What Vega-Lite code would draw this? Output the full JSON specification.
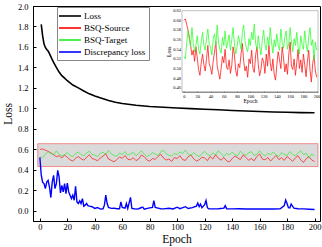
{
"$schema":"https://vega.github.io/schema/vega-lite/v6.json",
"width":287,"height":215,
"autosize":{"type":"none"},
"padding":{"left":33,"top":6,"right":2,"bottom":26},
"background":"white",
"config":{"view":{"stroke":"black","strokeWidth":1},"font":"Liberation Serif",
 "axis":{"grid":false,"labelOverlap":false,"labelFlush":false,"domainColor":"black","tickColor":"black","labelColor":"black","titleColor":"black","labelFont":"Liberation Serif","titleFont":"Liberation Serif","titleFontWeight":"normal"},
 "legend":{"title":null,"orient":"none","legendX":24,"legendY":1,"fillColor":"white","strokeColor":"#888888","padding":3,
   "symbolType":"M-2.2,0H2.2","symbolSize":100,"symbolStrokeWidth":1.6,"symbolOpacity":1,"symbolOffset":4,
   "labelFont":"Liberation Serif","labelFontSize":9,"labelColor":"black","labelOffset":8,"rowPadding":1}},
"datasets":{
"loss":[{"epoch":1,"value":1.82},{"epoch":2,"value":1.71},{"epoch":3,"value":1.63},{"epoch":4,"value":1.595},{"epoch":5,"value":1.575},{"epoch":6,"value":1.56},{"epoch":7,"value":1.535},{"epoch":8,"value":1.505},{"epoch":9,"value":1.475},{"epoch":10,"value":1.45},{"epoch":12,"value":1.4},{"epoch":14,"value":1.355},{"epoch":16,"value":1.32},{"epoch":18,"value":1.295},{"epoch":20,"value":1.27},{"epoch":24,"value":1.228},{"epoch":28,"value":1.2},{"epoch":32,"value":1.17},{"epoch":36,"value":1.142},{"epoch":40,"value":1.12},{"epoch":45,"value":1.098},{"epoch":50,"value":1.077},{"epoch":55,"value":1.06},{"epoch":60,"value":1.047},{"epoch":70,"value":1.03},{"epoch":80,"value":1.019},{"epoch":90,"value":1.011},{"epoch":100,"value":1.004},{"epoch":110,"value":0.998},{"epoch":120,"value":0.992},{"epoch":130,"value":0.986},{"epoch":140,"value":0.98},{"epoch":150,"value":0.975},{"epoch":160,"value":0.969},{"epoch":170,"value":0.965},{"epoch":180,"value":0.962},{"epoch":190,"value":0.959},{"epoch":200,"value":0.957}],
"disc":[{"epoch":0,"value":0.52},{"epoch":1,"value":0.35},{"epoch":2,"value":0.28},{"epoch":3,"value":0.265},{"epoch":4,"value":0.216},{"epoch":5,"value":0.28},{"epoch":6,"value":0.297},{"epoch":7,"value":0.232},{"epoch":8,"value":0.129},{"epoch":9,"value":0.28},{"epoch":10,"value":0.345},{"epoch":11,"value":0.216},{"epoch":12,"value":0.265},{"epoch":13,"value":0.394},{"epoch":14,"value":0.33},{"epoch":15,"value":0.174},{"epoch":16,"value":0.248},{"epoch":17,"value":0.184},{"epoch":18,"value":0.265},{"epoch":19,"value":0.168},{"epoch":20,"value":0.27},{"epoch":21,"value":0.184},{"epoch":22,"value":0.152},{"epoch":23,"value":0.119},{"epoch":24,"value":0.152},{"epoch":25,"value":0.103},{"epoch":26,"value":0.239},{"epoch":27,"value":0.087},{"epoch":28,"value":0.071},{"epoch":29,"value":0.097},{"epoch":30,"value":0.071},{"epoch":31,"value":0.119},{"epoch":32,"value":0.045},{"epoch":33,"value":0.055},{"epoch":34,"value":0.071},{"epoch":35,"value":0.05},{"epoch":36,"value":0.045},{"epoch":38,"value":0.039},{"epoch":40,"value":0.023},{"epoch":42,"value":0.032},{"epoch":44,"value":0.016},{"epoch":46,"value":0.019},{"epoch":47,"value":0.055},{"epoch":48,"value":0.152},{"epoch":49,"value":0.071},{"epoch":50,"value":0.032},{"epoch":52,"value":0.023},{"epoch":54,"value":0.026},{"epoch":56,"value":0.02},{"epoch":58,"value":0.019},{"epoch":59,"value":0.087},{"epoch":60,"value":0.032},{"epoch":62,"value":0.026},{"epoch":63,"value":0.071},{"epoch":64,"value":0.023},{"epoch":65,"value":0.077},{"epoch":66,"value":0.13},{"epoch":67,"value":0.023},{"epoch":70,"value":0.016},{"epoch":72,"value":0.02},{"epoch":74,"value":0.032},{"epoch":75,"value":0.035},{"epoch":76,"value":0.015},{"epoch":79,"value":0.026},{"epoch":82,"value":0.032},{"epoch":83,"value":0.1},{"epoch":84,"value":0.032},{"epoch":86,"value":0.026},{"epoch":88,"value":0.02},{"epoch":90,"value":0.018},{"epoch":94,"value":0.025},{"epoch":97,"value":0.018},{"epoch":100,"value":0.035},{"epoch":102,"value":0.02},{"epoch":106,"value":0.04},{"epoch":108,"value":0.022},{"epoch":111,"value":0.03},{"epoch":114,"value":0.045},{"epoch":115,"value":0.075},{"epoch":116,"value":0.04},{"epoch":117,"value":0.065},{"epoch":118,"value":0.03},{"epoch":120,"value":0.06},{"epoch":121,"value":0.1},{"epoch":122,"value":0.03},{"epoch":123,"value":0.02},{"epoch":126,"value":0.018},{"epoch":130,"value":0.02},{"epoch":134,"value":0.025},{"epoch":135,"value":0.05},{"epoch":136,"value":0.02},{"epoch":140,"value":0.018},{"epoch":145,"value":0.02},{"epoch":150,"value":0.017},{"epoch":155,"value":0.018},{"epoch":160,"value":0.017},{"epoch":165,"value":0.018},{"epoch":170,"value":0.017},{"epoch":175,"value":0.018},{"epoch":178,"value":0.05},{"epoch":179,"value":0.104},{"epoch":180,"value":0.07},{"epoch":181,"value":0.03},{"epoch":182,"value":0.028},{"epoch":183,"value":0.065},{"epoch":184,"value":0.045},{"epoch":185,"value":0.025},{"epoch":188,"value":0.02},{"epoch":192,"value":0.018},{"epoch":196,"value":0.015},{"epoch":200,"value":0.013}],
"bsq":[
{"epoch":0,"series":"BSQ-Source","value":0.600},{"epoch":2,"series":"BSQ-Source","value":0.603},{"epoch":4,"series":"BSQ-Source","value":0.592},{"epoch":6,"series":"BSQ-Source","value":0.580},{"epoch":8,"series":"BSQ-Source","value":0.566},{"epoch":10,"series":"BSQ-Source","value":0.548},{"epoch":12,"series":"BSQ-Source","value":0.528},{"epoch":14,"series":"BSQ-Source","value":0.538},{"epoch":16,"series":"BSQ-Source","value":0.515},{"epoch":18,"series":"BSQ-Source","value":0.545},
{"epoch":20,"series":"BSQ-Source","value":0.522},{"epoch":22,"series":"BSQ-Source","value":0.498},{"epoch":24,"series":"BSQ-Source","value":0.486},{"epoch":26,"series":"BSQ-Source","value":0.512},{"epoch":28,"series":"BSQ-Source","value":0.530},{"epoch":30,"series":"BSQ-Source","value":0.508},{"epoch":32,"series":"BSQ-Source","value":0.495},{"epoch":34,"series":"BSQ-Source","value":0.521},{"epoch":36,"series":"BSQ-Source","value":0.548},{"epoch":38,"series":"BSQ-Source","value":0.510},
{"epoch":40,"series":"BSQ-Source","value":0.502},{"epoch":42,"series":"BSQ-Source","value":0.488},{"epoch":44,"series":"BSQ-Source","value":0.515},{"epoch":46,"series":"BSQ-Source","value":0.534},{"epoch":48,"series":"BSQ-Source","value":0.556},{"epoch":50,"series":"BSQ-Source","value":0.505},{"epoch":52,"series":"BSQ-Source","value":0.492},{"epoch":54,"series":"BSQ-Source","value":0.478},{"epoch":56,"series":"BSQ-Source","value":0.500},{"epoch":58,"series":"BSQ-Source","value":0.525},
{"epoch":60,"series":"BSQ-Source","value":0.512},{"epoch":62,"series":"BSQ-Source","value":0.540},{"epoch":64,"series":"BSQ-Source","value":0.503},{"epoch":66,"series":"BSQ-Source","value":0.498},{"epoch":68,"series":"BSQ-Source","value":0.518},{"epoch":70,"series":"BSQ-Source","value":0.490},{"epoch":72,"series":"BSQ-Source","value":0.506},{"epoch":74,"series":"BSQ-Source","value":0.545},{"epoch":76,"series":"BSQ-Source","value":0.528},{"epoch":78,"series":"BSQ-Source","value":0.496},
{"epoch":80,"series":"BSQ-Source","value":0.484},{"epoch":82,"series":"BSQ-Source","value":0.510},{"epoch":84,"series":"BSQ-Source","value":0.502},{"epoch":86,"series":"BSQ-Source","value":0.530},{"epoch":88,"series":"BSQ-Source","value":0.552},{"epoch":90,"series":"BSQ-Source","value":0.515},{"epoch":92,"series":"BSQ-Source","value":0.495},{"epoch":94,"series":"BSQ-Source","value":0.505},{"epoch":96,"series":"BSQ-Source","value":0.482},{"epoch":98,"series":"BSQ-Source","value":0.520},
{"epoch":100,"series":"BSQ-Source","value":0.510},{"epoch":102,"series":"BSQ-Source","value":0.538},{"epoch":104,"series":"BSQ-Source","value":0.500},{"epoch":106,"series":"BSQ-Source","value":0.492},{"epoch":108,"series":"BSQ-Source","value":0.528},{"epoch":110,"series":"BSQ-Source","value":0.545},{"epoch":112,"series":"BSQ-Source","value":0.508},{"epoch":114,"series":"BSQ-Source","value":0.485},{"epoch":116,"series":"BSQ-Source","value":0.498},{"epoch":118,"series":"BSQ-Source","value":0.522},
{"epoch":120,"series":"BSQ-Source","value":0.515},{"epoch":122,"series":"BSQ-Source","value":0.490},{"epoch":124,"series":"BSQ-Source","value":0.530},{"epoch":126,"series":"BSQ-Source","value":0.505},{"epoch":128,"series":"BSQ-Source","value":0.548},{"epoch":130,"series":"BSQ-Source","value":0.512},{"epoch":132,"series":"BSQ-Source","value":0.495},{"epoch":134,"series":"BSQ-Source","value":0.520},{"epoch":136,"series":"BSQ-Source","value":0.488},{"epoch":138,"series":"BSQ-Source","value":0.476},
{"epoch":140,"series":"BSQ-Source","value":0.508},{"epoch":142,"series":"BSQ-Source","value":0.535},{"epoch":144,"series":"BSQ-Source","value":0.518},{"epoch":146,"series":"BSQ-Source","value":0.500},{"epoch":148,"series":"BSQ-Source","value":0.545},{"epoch":150,"series":"BSQ-Source","value":0.522},{"epoch":152,"series":"BSQ-Source","value":0.493},{"epoch":154,"series":"BSQ-Source","value":0.510},{"epoch":156,"series":"BSQ-Source","value":0.488},{"epoch":158,"series":"BSQ-Source","value":0.530},
{"epoch":160,"series":"BSQ-Source","value":0.555},{"epoch":162,"series":"BSQ-Source","value":0.505},{"epoch":164,"series":"BSQ-Source","value":0.498},{"epoch":166,"series":"BSQ-Source","value":0.520},{"epoch":168,"series":"BSQ-Source","value":0.486},{"epoch":170,"series":"BSQ-Source","value":0.512},{"epoch":172,"series":"BSQ-Source","value":0.540},{"epoch":174,"series":"BSQ-Source","value":0.500},{"epoch":176,"series":"BSQ-Source","value":0.518},{"epoch":178,"series":"BSQ-Source","value":0.492},
{"epoch":180,"series":"BSQ-Source","value":0.530},{"epoch":182,"series":"BSQ-Source","value":0.508},{"epoch":184,"series":"BSQ-Source","value":0.483},{"epoch":186,"series":"BSQ-Source","value":0.515},{"epoch":188,"series":"BSQ-Source","value":0.538},{"epoch":190,"series":"BSQ-Source","value":0.497},{"epoch":192,"series":"BSQ-Source","value":0.472},{"epoch":194,"series":"BSQ-Source","value":0.510},{"epoch":196,"series":"BSQ-Source","value":0.528},{"epoch":198,"series":"BSQ-Source","value":0.495},{"epoch":200,"series":"BSQ-Source","value":0.482},
{"epoch":0,"series":"BSQ-Target","value":0.525},{"epoch":2,"series":"BSQ-Target","value":0.520},{"epoch":4,"series":"BSQ-Target","value":0.552},{"epoch":6,"series":"BSQ-Target","value":0.578},{"epoch":8,"series":"BSQ-Target","value":0.560},{"epoch":10,"series":"BSQ-Target","value":0.545},{"epoch":12,"series":"BSQ-Target","value":0.585},{"epoch":14,"series":"BSQ-Target","value":0.552},{"epoch":16,"series":"BSQ-Target","value":0.535},{"epoch":18,"series":"BSQ-Target","value":0.548},
{"epoch":20,"series":"BSQ-Target","value":0.568},{"epoch":22,"series":"BSQ-Target","value":0.540},{"epoch":24,"series":"BSQ-Target","value":0.530},{"epoch":26,"series":"BSQ-Target","value":0.556},{"epoch":28,"series":"BSQ-Target","value":0.575},{"epoch":30,"series":"BSQ-Target","value":0.548},{"epoch":32,"series":"BSQ-Target","value":0.538},{"epoch":34,"series":"BSQ-Target","value":0.562},{"epoch":36,"series":"BSQ-Target","value":0.582},{"epoch":38,"series":"BSQ-Target","value":0.550},
{"epoch":40,"series":"BSQ-Target","value":0.545},{"epoch":42,"series":"BSQ-Target","value":0.528},{"epoch":44,"series":"BSQ-Target","value":0.560},{"epoch":46,"series":"BSQ-Target","value":0.572},{"epoch":48,"series":"BSQ-Target","value":0.548},{"epoch":50,"series":"BSQ-Target","value":0.590},{"epoch":52,"series":"BSQ-Target","value":0.555},{"epoch":54,"series":"BSQ-Target","value":0.540},{"epoch":56,"series":"BSQ-Target","value":0.532},{"epoch":58,"series":"BSQ-Target","value":0.565},
{"epoch":60,"series":"BSQ-Target","value":0.548},{"epoch":62,"series":"BSQ-Target","value":0.578},{"epoch":64,"series":"BSQ-Target","value":0.542},{"epoch":66,"series":"BSQ-Target","value":0.555},{"epoch":68,"series":"BSQ-Target","value":0.570},{"epoch":70,"series":"BSQ-Target","value":0.538},{"epoch":72,"series":"BSQ-Target","value":0.560},{"epoch":74,"series":"BSQ-Target","value":0.585},{"epoch":76,"series":"BSQ-Target","value":0.552},{"epoch":78,"series":"BSQ-Target","value":0.530},
{"epoch":80,"series":"BSQ-Target","value":0.545},{"epoch":82,"series":"BSQ-Target","value":0.568},{"epoch":84,"series":"BSQ-Target","value":0.555},{"epoch":86,"series":"BSQ-Target","value":0.540},{"epoch":88,"series":"BSQ-Target","value":0.575},{"epoch":90,"series":"BSQ-Target","value":0.590},{"epoch":92,"series":"BSQ-Target","value":0.558},{"epoch":94,"series":"BSQ-Target","value":0.542},{"epoch":96,"series":"BSQ-Target","value":0.535},{"epoch":98,"series":"BSQ-Target","value":0.562},
{"epoch":100,"series":"BSQ-Target","value":0.548},{"epoch":102,"series":"BSQ-Target","value":0.575},{"epoch":104,"series":"BSQ-Target","value":0.560},{"epoch":106,"series":"BSQ-Target","value":0.592},{"epoch":108,"series":"BSQ-Target","value":0.552},{"epoch":110,"series":"BSQ-Target","value":0.540},{"epoch":112,"series":"BSQ-Target","value":0.568},{"epoch":114,"series":"BSQ-Target","value":0.545},{"epoch":116,"series":"BSQ-Target","value":0.528},{"epoch":118,"series":"BSQ-Target","value":0.558},
{"epoch":120,"series":"BSQ-Target","value":0.580},{"epoch":122,"series":"BSQ-Target","value":0.550},{"epoch":124,"series":"BSQ-Target","value":0.538},{"epoch":126,"series":"BSQ-Target","value":0.565},{"epoch":128,"series":"BSQ-Target","value":0.548},{"epoch":130,"series":"BSQ-Target","value":0.585},{"epoch":132,"series":"BSQ-Target","value":0.555},{"epoch":134,"series":"BSQ-Target","value":0.532},{"epoch":136,"series":"BSQ-Target","value":0.560},{"epoch":138,"series":"BSQ-Target","value":0.545},
{"epoch":140,"series":"BSQ-Target","value":0.572},{"epoch":142,"series":"BSQ-Target","value":0.548},{"epoch":144,"series":"BSQ-Target","value":0.538},{"epoch":146,"series":"BSQ-Target","value":0.582},{"epoch":148,"series":"BSQ-Target","value":0.555},{"epoch":150,"series":"BSQ-Target","value":0.542},{"epoch":152,"series":"BSQ-Target","value":0.565},{"epoch":154,"series":"BSQ-Target","value":0.578},{"epoch":156,"series":"BSQ-Target","value":0.540},{"epoch":158,"series":"BSQ-Target","value":0.552},
{"epoch":160,"series":"BSQ-Target","value":0.585},{"epoch":162,"series":"BSQ-Target","value":0.555},{"epoch":164,"series":"BSQ-Target","value":0.535},{"epoch":166,"series":"BSQ-Target","value":0.562},{"epoch":168,"series":"BSQ-Target","value":0.548},{"epoch":170,"series":"BSQ-Target","value":0.575},{"epoch":172,"series":"BSQ-Target","value":0.545},{"epoch":174,"series":"BSQ-Target","value":0.530},{"epoch":176,"series":"BSQ-Target","value":0.568},{"epoch":178,"series":"BSQ-Target","value":0.550},
{"epoch":180,"series":"BSQ-Target","value":0.540},{"epoch":182,"series":"BSQ-Target","value":0.578},{"epoch":184,"series":"BSQ-Target","value":0.552},{"epoch":186,"series":"BSQ-Target","value":0.535},{"epoch":188,"series":"BSQ-Target","value":0.565},{"epoch":190,"series":"BSQ-Target","value":0.585},{"epoch":192,"series":"BSQ-Target","value":0.548},{"epoch":194,"series":"BSQ-Target","value":0.560},{"epoch":196,"series":"BSQ-Target","value":0.518},{"epoch":198,"series":"BSQ-Target","value":0.555},{"epoch":200,"series":"BSQ-Target","value":0.538}]
},
"layer":[
{"layer":[
 {"data":{"values":[{"x1":-1.5,"x2":202.5,"y1":0.432,"y2":0.655}]},
  "mark":{"type":"rect","fill":"#dadada","stroke":"#f08a8a","strokeWidth":1},
  "encoding":{
   "x":{"field":"x1","type":"quantitative","title":"Epoch","scale":{"domain":[-5,204],"nice":false,"zero":false},
        "axis":{"values":[0,20,40,60,80,100,120,140,160,180,200],"labelOverlap":false,"tickSize":-3,"labelPadding":4,"labelFontSize":8.5,"titleFontSize":11.5,"titlePadding":3}},
   "x2":{"field":"x2"},
   "y":{"field":"y1","type":"quantitative","title":"Loss","scale":{"domain":[-0.1,2.0],"nice":false,"zero":false},
        "axis":{"values":[0,0.2,0.4,0.6,0.8,1.0,1.2,1.4,1.6,1.8,2.0],"labelOverlap":false,"format":".1f","tickSize":-3,"labelPadding":8,"labelFontSize":8.5,"titleFontSize":11.5,"titlePadding":4}},
   "y2":{"field":"y2"}}},
 {"data":{"name":"bsq"},
  "mark":{"type":"line","strokeWidth":1,"opacity":0.65},
  "encoding":{
   "x":{"field":"epoch","type":"quantitative","title":"Epoch","scale":{"domain":[-5,204],"nice":false,"zero":false},
        "axis":{"values":[0,20,40,60,80,100,120,140,160,180,200],"labelOverlap":false,"tickSize":-3,"labelPadding":4,"labelFontSize":8.5,"titleFontSize":11.5,"titlePadding":3}},
   "y":{"field":"value","type":"quantitative","title":"Loss","scale":{"domain":[-0.1,2.0],"nice":false,"zero":false},
        "axis":{"values":[0,0.2,0.4,0.6,0.8,1.0,1.2,1.4,1.6,1.8,2.0],"labelOverlap":false,"format":".1f","tickSize":-3,"labelPadding":8,"labelFontSize":8.5,"titleFontSize":11.5,"titlePadding":4}},
   "color":{"field":"series","type":"nominal","title":null,
     "scale":{"domain":["Loss","BSQ-Source","BSQ-Target","Discrepancy loss"],"range":["#000000","#ff0000","#22ee22","#0000ff"]}}}},
 {"data":{"name":"loss"},
  "mark":{"type":"line","strokeWidth":1.6},
  "encoding":{
   "x":{"field":"epoch","type":"quantitative","title":"Epoch","scale":{"domain":[-5,204],"nice":false,"zero":false},
        "axis":{"values":[0,20,40,60,80,100,120,140,160,180,200],"labelOverlap":false,"tickSize":-3,"labelPadding":4,"labelFontSize":8.5,"titleFontSize":11.5,"titlePadding":3}},
   "y":{"field":"value","type":"quantitative","title":"Loss","scale":{"domain":[-0.1,2.0],"nice":false,"zero":false},
        "axis":{"values":[0,0.2,0.4,0.6,0.8,1.0,1.2,1.4,1.6,1.8,2.0],"labelOverlap":false,"format":".1f","tickSize":-3,"labelPadding":8,"labelFontSize":8.5,"titleFontSize":11.5,"titlePadding":4}},
   "color":{"datum":"Loss","type":"nominal","title":null}}},
 {"data":{"name":"disc"},
  "mark":{"type":"line","strokeWidth":1.4},
  "encoding":{
   "x":{"field":"epoch","type":"quantitative","title":"Epoch","scale":{"domain":[-5,204],"nice":false,"zero":false},
        "axis":{"values":[0,20,40,60,80,100,120,140,160,180,200],"labelOverlap":false,"tickSize":-3,"labelPadding":4,"labelFontSize":8.5,"titleFontSize":11.5,"titlePadding":3}},
   "y":{"field":"value","type":"quantitative","title":"Loss","scale":{"domain":[-0.1,2.0],"nice":false,"zero":false},
        "axis":{"values":[0,0.2,0.4,0.6,0.8,1.0,1.2,1.4,1.6,1.8,2.0],"labelOverlap":false,"format":".1f","tickSize":-3,"labelPadding":8,"labelFontSize":8.5,"titleFontSize":11.5,"titlePadding":4}},
   "color":{"datum":"Discrepancy loss","type":"nominal","title":null}}}
]},
{"layer":[
 {"data":{"values":[{"x1":-3,"x2":202,"y1":0.452,"y2":0.62}]},
  "mark":{"type":"rect","fill":"white","stroke":"#999999","strokeWidth":0.6},
  "encoding":{
   "x":{"field":"x1","type":"quantitative","title":"Epoch","scale":{"domain":[-3,202],"range":[149,285],"nice":false,"zero":false},
        "axis":{"orient":"bottom","offset":-129.3,"values":[0,20,40,60,80,100,120,140,160,180,200],"labelOverlap":false,"tickSize":-1.5,"labelPadding":3,"labelFontSize":4.5,"titleFontSize":5.5,"titlePadding":1,"domainWidth":0.8,"domainColor":"#333333"}},
   "x2":{"field":"x2"},
   "y":{"field":"y1","type":"quantitative","title":"Loss","scale":{"domain":[0.452,0.62],"range":[85.7,4.7],"nice":false,"zero":false},
        "axis":{"orient":"left","offset":-149,"values":[0.46,0.48,0.5,0.52,0.54,0.56,0.58,0.6,0.62],"labelOverlap":false,"format":".2f","tickSize":-1.5,"labelPadding":3,"labelFontSize":4.5,"titleFontSize":5.5,"titlePadding":1.5,"domainWidth":0.8,"domainColor":"#333333"}},
   "y2":{"field":"y2"}}},
 {"data":{"name":"bsq"},
  "mark":{"type":"line","strokeWidth":0.8},
  "encoding":{
   "x":{"field":"epoch","type":"quantitative","title":"Epoch","scale":{"domain":[-3,202],"range":[149,285],"nice":false,"zero":false},
        "axis":{"orient":"bottom","offset":-129.3,"values":[0,20,40,60,80,100,120,140,160,180,200],"labelOverlap":false,"tickSize":-1.5,"labelPadding":3,"labelFontSize":4.5,"titleFontSize":5.5,"titlePadding":1,"domainWidth":0.8,"domainColor":"#333333"}},
   "y":{"field":"value","type":"quantitative","title":"Loss","scale":{"domain":[0.452,0.62],"range":[85.7,4.7],"nice":false,"zero":false},
        "axis":{"orient":"left","offset":-149,"values":[0.46,0.48,0.5,0.52,0.54,0.56,0.58,0.6,0.62],"labelOverlap":false,"format":".2f","tickSize":-1.5,"labelPadding":3,"labelFontSize":4.5,"titleFontSize":5.5,"titlePadding":1.5,"domainWidth":0.8,"domainColor":"#333333"}},
   "color":{"field":"series","type":"nominal","scale":{"domain":["BSQ-Source","BSQ-Target"],"range":["#ff1a1a","#33ff33"]},"legend":null}}}
]}
],
"resolve":{"scale":{"x":"independent","y":"independent","color":"independent"},"axis":{"x":"independent","y":"independent"}}
}
